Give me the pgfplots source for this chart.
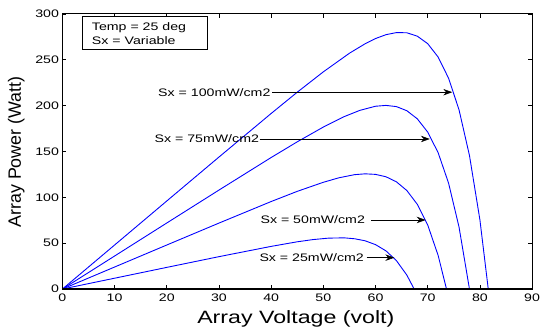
\documentclass[border=0pt]{standalone}
\usepackage{fontspec}
\setmainfont{Liberation Sans}[FakeStretch=1.3]
\newfontfamily\ylabfont{Liberation Sans}
\usepackage{pgfplots}
\pgfplotsset{compat=1.18}
\usetikzlibrary{arrows.meta}
\begin{document}
\begin{tikzpicture}
\begin{axis}[name=ax, at={(0,0)}, anchor=south west,
  scale only axis, width=474pt, height=277.7pt,
  xmin=0, xmax=90, ymin=0, ymax=300,
  xtick={0,10,...,90}, ytick={0,50,...,300},
  tick align=inside, major tick length=4pt,
  tick style={black, line width=0.6pt},
  axis line style={black, line width=0.8pt},
  /pgf/number format/assume math mode=true,
  tick label style={font=\fontsize{11}{13}\selectfont},
  xticklabel style={yshift=-1pt},
  xlabel={Array Voltage (volt)},
  ylabel={\ylabfont Array Power (Watt)},
  xlabel style={font=\fontsize{18}{20}\selectfont, at={(axis description cs:0.497,0)}, anchor=base, yshift=-34.3pt},
  ylabel style={font=\fontsize{18}{20}\selectfont, at={(axis description cs:-0.0886,0.498)}, anchor=base},
  clip=false
]
% 100 mW/cm2
\addplot[color={rgb,255:red,0;green,0;blue,255}, line width=0.9pt] coordinates {
(0,0) (10,48.0) (20,96.0) (30,143.9) (40,191.4) (45,214.6) (50,236.8) (55,257.1) (58,267.4) (60,273.1) (62,277.3) (64,279.6) (66,279.4) (68,275.7) (70,267.5) (72,252.9) (74,229.8) (76,195.4) (78,145.6) (80,75.5) (81.6,0)};
% 75 mW/cm2
\addplot[color={rgb,255:red,0;green,0;blue,255}, line width=0.9pt] coordinates {
(0,0) (10,36.0) (20,72.0) (30,107.9) (40,143.4) (45,160.5) (50,176.6) (54,188.0) (57,194.8) (60,199.3) (62,200.2) (64,198.9) (66,194.4) (68,185.6) (70,171.1) (72,148.6) (74,115.4) (76,67.6) (78,0)};
% 50 mW/cm2
\addplot[color={rgb,255:red,0;green,0;blue,255}, line width=0.9pt] coordinates {
(0,0) (10,24.0) (20,48.0) (30,71.9) (40,95.4) (45,106.5) (50,116.4) (53,121.3) (56,124.7) (58,125.6) (60,125.0) (62,122.4) (64,116.9) (66,107.4) (68,92.4) (70,69.8) (72,36.6) (73.6,0)};
% 25 mW/cm2
\addplot[color={rgb,255:red,0;green,0;blue,255}, line width=0.9pt] coordinates {
(0,0) (10,11.8) (20,23.6) (30,35.3) (40,46.5) (45,51.5) (48,53.9) (51,55.5) (54,55.8) (56,54.8) (58,52.6) (60,48.4) (62,41.6) (64,31.0) (66,15.2) (67.4,0)};

% thicker left and bottom axis lines
\draw[black, line width=1.6pt] (rel axis cs:0,1) -- (rel axis cs:0,0) -- (rel axis cs:1,0);

% annotations
\node[anchor=base east, inner sep=0pt, yshift=-3.9pt, font=\fontsize{11}{13}\selectfont] at (axis cs:39.9,214.6) {Sx = 100mW/cm2};
\draw[black, line width=0.6pt, -{Stealth[length=9pt,width=6.5pt]}] (axis cs:40.2,214.6) -- (axis cs:74.7,214.6);
\node[anchor=base east, inner sep=0pt, yshift=-3.9pt, font=\fontsize{11}{13}\selectfont] at (axis cs:37.7,163.6) {Sx = 75mW/cm2};
\draw[black, line width=0.6pt, -{Stealth[length=9pt,width=6.5pt]}] (axis cs:37.8,163.6) -- (axis cs:70.4,163.6);
\node[anchor=base east, inner sep=0pt, yshift=-3.9pt, font=\fontsize{11}{13}\selectfont] at (axis cs:58.0,75.3) {Sx = 50mW/cm2};
\draw[black, line width=0.6pt, -{Stealth[length=9pt,width=6.5pt]}] (axis cs:59.2,75.3) -- (axis cs:69.6,75.3);
\node[anchor=base east, inner sep=0pt, yshift=-3.9pt, font=\fontsize{11}{13}\selectfont] at (axis cs:57.8,34.2) {Sx = 25mW/cm2};
\draw[black, line width=0.6pt, -{Stealth[length=9pt,width=6.5pt]}] (axis cs:58.3,34.2) -- (axis cs:63.6,34.2);

% info box
\draw[black, line width=0.8pt, fill=white] (axis cs:3.87,261.1) rectangle (axis cs:27.7,297.1);
\node[anchor=base west, inner sep=0pt, font=\fontsize{11}{13}\selectfont] at (axis cs:5.62,281.9) {Temp = 25 deg};
\node[anchor=base west, inner sep=0pt, font=\fontsize{11}{13}\selectfont] at (axis cs:5.62,266.5) {Sx = Variable};
\end{axis}
\pgfresetboundingbox
\path[use as bounding box] ([shift={(-63pt,-39.3pt)}]ax.south west) rectangle ([shift={(9pt,14pt)}]ax.north east);
\end{tikzpicture}
\end{document}
